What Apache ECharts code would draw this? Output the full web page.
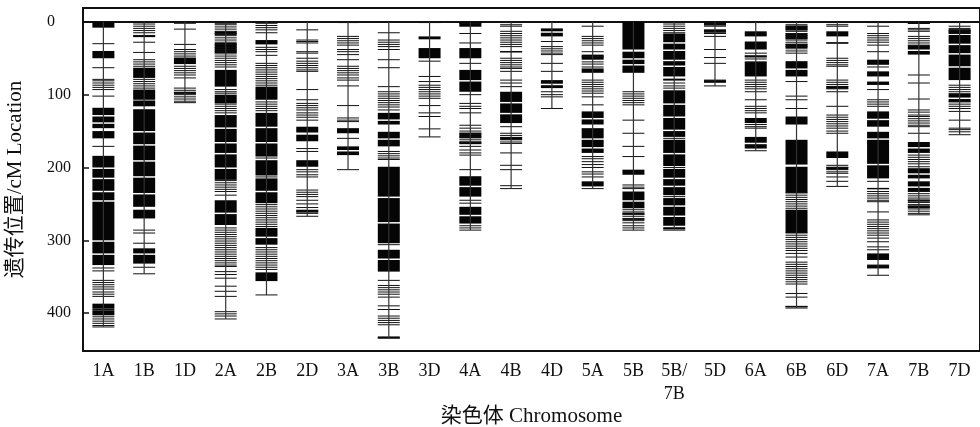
<!DOCTYPE html>
<html>
<head>
<meta charset="utf-8">
<script src="https://cdn.jsdelivr.net/npm/echarts@6/dist/echarts.min.js"></script>
<style>html,body{margin:0;padding:0;background:#fff}#c{width:980px;height:427px}</style>
</head>
<body>
<div id="c"></div>
<script>
// ---- data ----
const chromosomes = ['1A','1B','1D','2A','2B','2D','3A','3B','3D','4A','4B','4D','5A','5B','5B/\n7B','5D','6A','6B','6D','7A','7B','7D'];
const lengths = [419,346,111,408,375,267,203,434,158,286,229,119,229,286,285,88,177,393,226,348,265,155];
const yTicks = [0,100,200,300,400];

// single marker positions (cM) and dense marker clusters [start, end] (cM)
const m1A = [30,63,79,81,84,87,90,93,102,171,338,342,355,358,361,364,367,371,374,377,395,405,408,411,414,417,419];
const b1A = [[0,8],[40,50],[118,128],[130,138],[140,146],[150,160],[184,200],[202,214],[216,232],[234,245],[247,300],[302,318],[320,334],[387,394],[396,403]];
const m1B = [0,3,6,9,12,15,19,28,42,52,55,58,61,79,82,85,88,91,286,290,304,337,346];
const b1B = [[18,21],[63,77],[93,107],[108,116],[120,150],[152,168],[170,190],[192,212],[214,235],[237,254],[258,270],[311,318],[320,332]];
const m1D = [0,2,10,31,38,41,44,47,61,64,67,70,73,77,91,94,97,100,103,106,109,111];
const b1D = [[49,58],[96,99]];
const m2A = [0,2,4,7,10,13,16,19,22,25,28,31,35,38,41,44,47,50,53,56,59,62,93,96,98,113,116,119,122,125,218,221,224,227,230,233,238,283,286,289,292,295,298,301,304,307,310,313,316,319,322,325,328,331,334,336,343,347,352,363,370,377,398,401,404,408];
const b2A = [[13,18],[29,43],[66,89],[100,112],[128,145],[147,165],[167,180],[182,200],[202,217],[245,262],[264,279]];
const m2B = [2,5,8,11,15,35,38,41,46,57,60,63,66,69,72,75,78,81,84,87,110,113,116,119,122,187,213,251,254,257,260,263,266,269,272,275,278,281,310,313,316,319,322,325,328,331,334,337,340,375];
const b2B = [[25,31],[89,107],[125,144],[146,165],[167,185],[190,211],[215,232],[234,249],[283,295],[297,306],[344,356]];
const m2D = [0,11,25,27,29,41,43,50,54,57,60,63,66,68,93,107,112,115,118,121,125,128,131,135,174,178,203,206,210,213,231,234,237,240,245,250,255,260,263,267];
const b2D = [[144,152],[155,164],[190,199],[258,262]];
const m3A = [1,20,23,26,29,32,38,41,45,52,61,64,67,70,73,77,80,88,115,132,135,137,160,203];
const b3A = [[146,153],[171,176],[178,183]];
const m3B = [0,15,25,28,31,34,38,52,63,89,96,99,102,105,108,111,114,117,121,178,181,184,187,189,306,355,362,365,368,371,374,378,390,395,404,407,410,413,416,434];
const b3B = [[125,134],[136,141],[151,160],[162,171],[199,240],[242,275],[277,304],[313,325],[327,343],[432,435]];
const m3D = [1,54,75,82,87,90,93,96,99,102,105,115,125,130,147,158];
const b3D = [[20,24],[36,50]];
const m4A = [2,6,16,29,57,100,112,116,119,125,142,146,150,154,158,162,166,171,176,180,183,203,245,249,280,283,286];
const b4A = [[0,6],[36,50],[66,80],[82,96],[152,160],[164,168],[212,225],[227,240],[254,265],[267,277]];
const m4B = [1,4,6,13,16,19,22,25,28,31,34,41,50,53,56,59,62,64,68,80,84,89,144,153,156,159,162,165,167,180,197,203,225,229];
const b4B = [[40,42],[96,110],[112,125],[127,139],[158,162]];
const m4D = [0,27,34,37,40,43,45,57,68,96,100,103,119];
const b4D = [[9,13],[15,20],[80,85],[87,91]];
const m5A = [0,6,20,23,26,29,32,41,48,55,58,62,80,83,86,89,92,95,98,103,114,185,188,192,196,200,206,209,213,229];
const b5A = [[45,52],[64,70],[123,132],[134,141],[146,160],[162,172],[174,180],[219,226]];
const m5B = [96,99,102,105,108,111,114,135,153,171,185,224,227,229,258,261,264,267,270,273,276,280,283,286];
const b5B = [[0,38],[41,50],[52,58],[60,70],[203,210],[233,245],[247,256],[262,265],[270,272]];
const m5B7B = [0,3,6,9,12,15,80,84,88,91,160,200,240,286];
const b5B7B = [[16,28],[30,38],[40,52],[54,60],[62,75],[78,80],[94,112],[114,130],[132,148],[150,158],[162,180],[182,198],[202,214],[216,225],[227,238],[242,252],[254,266],[268,280],[282,285]];
const m5D = [0,2,4,6,11,13,16,20,38,49,57,80,83,88];
const b5D = [[0,5],[11,15],[80,83]];
const m6A = [1,43,47,51,55,80,83,86,89,92,96,107,116,119,122,125,141,144,146,177];
const b6A = [[13,20],[27,38],[46,49],[55,75],[132,139],[158,166],[168,174]];
const m6B = [1,4,7,10,13,16,19,22,25,28,31,34,37,40,43,82,102,107,119,235,238,241,244,247,250,253,256,290,293,296,299,302,305,308,311,314,318,323,330,333,336,339,342,345,348,351,354,357,360,373,378,391,393];
const b6B = [[5,12],[16,24],[30,36],[54,64],[66,75],[130,141],[162,196],[199,235],[258,290],[390,392]];
const m6D = [1,4,6,29,50,53,56,59,61,80,83,86,89,92,96,116,128,131,134,137,140,143,146,150,153,197,200,203,206,208,213,219,226];
const b6D = [[13,20],[28,30],[88,92],[178,187],[199,203]];
const m7A = [1,6,16,19,22,25,28,32,41,62,86,93,107,110,113,116,219,233,236,239,242,245,247,261,272,275,278,281,284,287,290,293,297,302,309,313,334,338,348];
const b7A = [[52,59],[68,75],[82,86],[123,133],[135,144],[151,160],[162,195],[197,215],[228,230],[318,327],[334,338]];
const m7B = [0,2,9,11,13,20,23,26,29,32,73,84,106,121,124,128,130,133,136,139,142,144,153,183,186,189,192,195,199,233,236,239,242,245,248,251,254,257,260,263,265];
const b7B = [[0,3],[32,38],[40,45],[165,172],[174,180],[201,208],[210,215],[219,226],[228,233],[244,247],[252,256]];
const m7D = [1,6,9,12,14,16,87,90,93,96,110,113,116,119,123,135,146,148,151,155];
const b7D = [[10,16],[18,30],[32,43],[45,61],[63,80],[98,104],[106,110]];

const markerLists = [m1A,m1B,m1D,m2A,m2B,m2D,m3A,m3B,m3D,m4A,m4B,m4D,m5A,m5B,m5B7B,m5D,m6A,m6B,m6D,m7A,m7B,m7D];
const blockLists  = [b1A,b1B,b1D,b2A,b2B,b2D,b3A,b3B,b3D,b4A,b4B,b4D,b5A,b5B,b5B7B,b5D,b6A,b6B,b6D,b7A,b7B,b7D];

// ---- build series data ----
const lineData = lengths.map((l, i) => [i, 0, l]);
const markerData = [];
markerLists.forEach((arr, i) => arr.forEach(v => markerData.push([i, v])));
const blockData = [];
blockLists.forEach((arr, i) => arr.forEach(b => blockData.push([i, b[0], b[1]])));

const FONT = "'Liberation Serif', 'Noto Sans CJK SC', serif";
const HALF = 11;

const chart = echarts.init(document.getElementById('c'), null, {renderer: 'canvas'});
chart.setOption({
  animation: false,
  backgroundColor: '#fff',
  grid: {left: 83, top: 8, right: 0, bottom: 76, containLabel: false, outerBoundsMode: 'none',
         show: true, borderColor: '#111', borderWidth: 2, backgroundColor: 'transparent'},
  xAxis: {
    type: 'category',
    data: chromosomes,
    name: '染色体 Chromosome',
    nameLocation: 'middle',
    nameGap: 55,
    nameMoveOverlap: false,
    nameTextStyle: {fontFamily: FONT, fontSize: 21, color: '#111'},
    axisLine: {lineStyle: {color: '#111', width: 2}},
    axisTick: {inside: true, alignWithLabel: true, length: 6, lineStyle: {color: '#111', width: 1.5}},
    axisLabel: {fontFamily: FONT, fontSize: 18, color: '#111', margin: 9, interval: 0, lineHeight: 23, verticalAlign: 'top'},
    splitLine: {show: false}
  },
  yAxis: {
    type: 'value',
    inverse: true,
    min: -19,
    max: 452,
    name: '遗传位置/cM Location',
    nameLocation: 'middle',
    nameGap: 57,
    nameRotate: 90,
    nameMoveOverlap: false,
    nameTextStyle: {fontFamily: FONT, fontSize: 21, color: '#111'},
    axisLine: {show: true, lineStyle: {color: '#111', width: 2}},
    axisTick: {show: true, inside: true, length: 6, customValues: yTicks, lineStyle: {color: '#111', width: 1.5}},
    axisLabel: {fontFamily: FONT, fontSize: 16, color: '#111', align: 'left', margin: 36, customValues: yTicks},
    splitLine: {show: false}
  },
  series: [
    {
      type: 'custom',
      name: 'chromosome',
      data: lineData,
      encode: {x: 0, y: [1, 2]},
      renderItem: function (params, api) {
        const p0 = api.coord([api.value(0), api.value(1)]);
        const p1 = api.coord([api.value(0), api.value(2)]);
        return {type: 'line', shape: {x1: p0[0], y1: p0[1], x2: p1[0], y2: p1[1]}, style: {stroke: '#333', lineWidth: 1.2}};
      },
      z: 3
    },
    {
      type: 'custom',
      name: 'cluster',
      data: blockData,
      encode: {x: 0, y: [1, 2]},
      renderItem: function (params, api) {
        const p0 = api.coord([api.value(0), api.value(1)]);
        const p1 = api.coord([api.value(0), api.value(2)]);
        return {type: 'rect', shape: {x: p0[0] - HALF, y: p0[1], width: HALF * 2, height: Math.max(1, p1[1] - p0[1])}, style: {fill: '#050505'}};
      },
      z: 2
    },
    {
      type: 'custom',
      name: 'marker',
      data: markerData,
      encode: {x: 0, y: 1},
      renderItem: function (params, api) {
        const p = api.coord([api.value(0), api.value(1)]);
        return {type: 'line', shape: {x1: p[0] - HALF, y1: p[1], x2: p[0] + HALF, y2: p[1]}, style: {stroke: '#111', lineWidth: 1}};
      },
      z: 2
    }
  ]
});
</script>
</body>
</html>
